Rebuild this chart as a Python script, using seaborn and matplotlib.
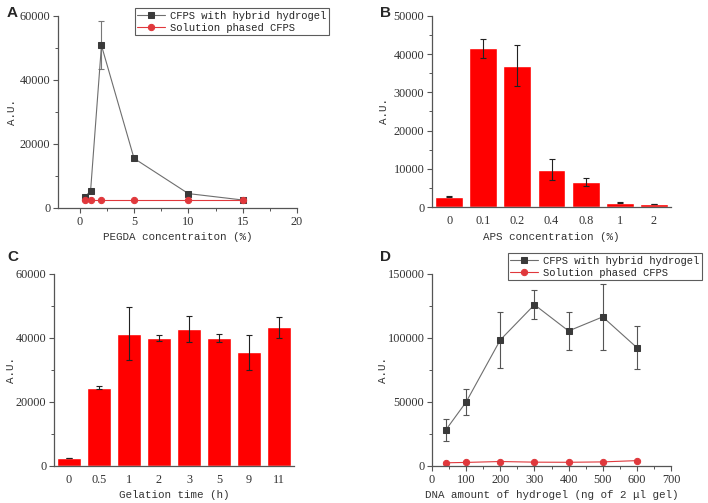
import numpy as np
import pandas as pd
import matplotlib
matplotlib.use("Agg")
import matplotlib.pyplot as plt
import seaborn as sns
from matplotlib.ticker import MultipleLocator, AutoMinorLocator

# ---------------- data ----------------
# Panel A
pegda_x = [0.5, 1, 2, 5, 10, 15]
pegda_gel = [3500, 5400, 50800, 15500, 4500, 2500]
pegda_gel_err = [0, 0, 7500, 0, 0, 0]
pegda_sol = [2600, 2600, 2600, 2600, 2600, 2600]

# Panel B
aps_labels = ["0", "0.1", "0.2", "0.4", "0.8", "1", "2"]
aps_vals = [2700, 41500, 37000, 9800, 6500, 1100, 800]
aps_err = [150, 2500, 5300, 2700, 1000, 100, 100]

# Panel C
gel_labels = ["0", "0.5", "1", "2", "3", "5", "9", "11"]
gel_vals = [2600, 24500, 41300, 40000, 42800, 40000, 35500, 43300]
gel_err = [0, 500, 8300, 800, 4000, 1200, 5500, 3400]

# Panel D
dna_x = [40, 100, 200, 300, 400, 500, 600]
dna_gel = [28000, 50000, 98500, 126000, 105500, 116500, 92500]
dna_gel_err = [8500, 10000, 22000, 11500, 15000, 26000, 16500]
dna_sol = [2500, 2800, 3500, 3000, 2900, 3200, 4200]

# ---------------- style ----------------
sns.set_style("white")
MONO = ["Liberation Mono", "DejaVu Sans Mono"]
SERIF = ["Liberation Serif", "DejaVu Serif"]
plt.rcParams["font.family"] = MONO
AXC = "#555555"
RED = "#ff0000"
GEL_LINE = "#6e6e6e"
GEL_MK = "#3a3a3a"
SOL_C = "#e0383c"

W, H = 708, 503
fig = plt.figure(figsize=(W / 100, H / 100), dpi=100)


def make_ax(l, r, t, b):
    return fig.add_axes([l / W, 1 - b / H, (r - l) / W, (b - t) / H])


def style_ax(ax, xlabel, ylab_x, xminor=True):
    for s in ["top", "right"]:
        ax.spines[s].set_visible(False)
    for s in ["left", "bottom"]:
        ax.spines[s].set_color(AXC)
        ax.spines[s].set_linewidth(0.9)
    ax.tick_params(axis="both", which="major", direction="out", length=3.5,
                   width=0.8, color=AXC, labelsize=8.8, labelcolor="#333333",
                   left=True, bottom=True, pad=2)
    ax.tick_params(axis="both", which="minor", direction="out", length=2,
                   width=0.7, color=AXC, left=True, bottom=xminor)
    for lab in ax.get_xticklabels() + ax.get_yticklabels():
        lab.set_family(SERIF)
    ax.set_xlabel(xlabel, fontsize=7.8, color="#333333", labelpad=3)
    ax.set_ylabel("A.U.", fontsize=7.8, color="#333333")
    # y label centre placed at a figure x position (pixels)
    bb = ax.get_position()
    ax.yaxis.set_label_coords(ylab_x / W, bb.y0 + bb.height / 2,
                              transform=fig.transFigure)
    ax.yaxis.label.set_verticalalignment("center")
    ax.grid(False)


def legend(ax, right, top):
    leg = ax.legend(loc="upper right", bbox_to_anchor=(right / W, 1 - top / H),
                    bbox_transform=fig.transFigure, fontsize=7.6, frameon=True,
                    fancybox=False, borderpad=0.25, handlelength=2.6,
                    handletextpad=0.5, labelspacing=0.2, borderaxespad=0)
    leg.get_frame().set_edgecolor("#333333")
    leg.get_frame().set_linewidth(0.8)


# ---------------- Panel A ----------------
axA = make_ax(58, 297, 16, 208)
dfA = pd.DataFrame({"x": pegda_x, "gel": pegda_gel, "sol": pegda_sol})
axA.errorbar(pegda_x, pegda_gel, yerr=pegda_gel_err, fmt="none",
             ecolor="#777777", elinewidth=0.8, capsize=2.5, capthick=0.8)
sns.lineplot(data=dfA, x="x", y="gel", ax=axA, color=GEL_LINE, lw=0.8,
             marker="s", markersize=4.2, markerfacecolor=GEL_MK,
             markeredgecolor=GEL_MK, label="CFPS with hybrid hydrogel")
sns.lineplot(data=dfA, x="x", y="sol", ax=axA, color=SOL_C, lw=0.8,
             marker="o", markersize=4.5, markerfacecolor=SOL_C,
             markeredgecolor=SOL_C, label="Solution phased CFPS")
axA.set_xlim(-2, 20)
axA.set_ylim(0, 60000)
axA.xaxis.set_major_locator(MultipleLocator(5))
axA.xaxis.set_minor_locator(AutoMinorLocator(2))
axA.yaxis.set_major_locator(MultipleLocator(20000))
axA.yaxis.set_minor_locator(AutoMinorLocator(2))
style_ax(axA, "PEGDA concentraiton (%)", 12)
legend(axA, 329, 8)

# ---------------- Panel B ----------------
axB = make_ax(432, 671, 16, 207)
dfB = pd.DataFrame({"c": aps_labels, "v": aps_vals})
sns.barplot(data=dfB, x="c", y="v", ax=axB, color=RED, saturation=1,
            width=0.82, errorbar=None)
axB.errorbar(np.arange(len(aps_labels)), aps_vals, yerr=aps_err, fmt="none",
             ecolor="#222222", elinewidth=0.8, capsize=2.5, capthick=0.8)
axB.set_xlim(-0.5, len(aps_labels) - 0.5)
axB.set_ylim(0, 50000)
axB.yaxis.set_major_locator(MultipleLocator(10000))
axB.yaxis.set_minor_locator(AutoMinorLocator(2))
style_ax(axB, "APS concentration (%)", 384, xminor=False)
axB.tick_params(axis="x", which="major", length=0, pad=6)

# ---------------- Panel C ----------------
axC = make_ax(54, 294, 274, 466)
dfC = pd.DataFrame({"c": gel_labels, "v": gel_vals})
sns.barplot(data=dfC, x="c", y="v", ax=axC, color=RED, saturation=1,
            width=0.82, errorbar=None)
axC.errorbar(np.arange(len(gel_labels)), gel_vals, yerr=gel_err, fmt="none",
             ecolor="#222222", elinewidth=0.8, capsize=2.5, capthick=0.8)
axC.set_xlim(-0.5, len(gel_labels) - 0.5)
axC.set_ylim(0, 60000)
axC.yaxis.set_major_locator(MultipleLocator(20000))
axC.yaxis.set_minor_locator(AutoMinorLocator(2))
style_ax(axC, "Gelation time (h)", 11, xminor=False)
axC.tick_params(axis="x", which="major", length=0, pad=6)

# ---------------- Panel D ----------------
axD = make_ax(432, 671, 274, 466)
dfD = pd.DataFrame({"x": dna_x, "gel": dna_gel, "sol": dna_sol})
axD.errorbar(dna_x, dna_gel, yerr=dna_gel_err, fmt="none",
             ecolor="#555555", elinewidth=0.8, capsize=2.5, capthick=0.8)
sns.lineplot(data=dfD, x="x", y="gel", ax=axD, color=GEL_LINE, lw=0.8,
             marker="s", markersize=4.2, markerfacecolor=GEL_MK,
             markeredgecolor=GEL_MK, label="CFPS with hybrid hydrogel")
sns.lineplot(data=dfD, x="x", y="sol", ax=axD, color=SOL_C, lw=0.8,
             marker="o", markersize=4.5, markerfacecolor=SOL_C,
             markeredgecolor=SOL_C, label="Solution phased CFPS")
axD.set_xlim(0, 700)
axD.set_ylim(0, 150000)
axD.xaxis.set_major_locator(MultipleLocator(100))
axD.xaxis.set_minor_locator(AutoMinorLocator(2))
axD.yaxis.set_major_locator(MultipleLocator(50000))
axD.yaxis.set_minor_locator(AutoMinorLocator(2))
style_ax(axD, "DNA amount of hydrogel (ng of 2 μl gel)", 383)
legend(axD, 702, 253)

# ---------------- Panel letters ----------------
for letter, (px, py) in {"A": (7, 6), "B": (380, 6), "C": (7, 250), "D": (380, 250)}.items():
    fig.text(px / W, 1 - py / H, letter, fontsize=11, fontweight="bold",
             family=["Liberation Sans", "DejaVu Sans"], va="top", ha="left")

fig.savefig("out.png", dpi=100)
